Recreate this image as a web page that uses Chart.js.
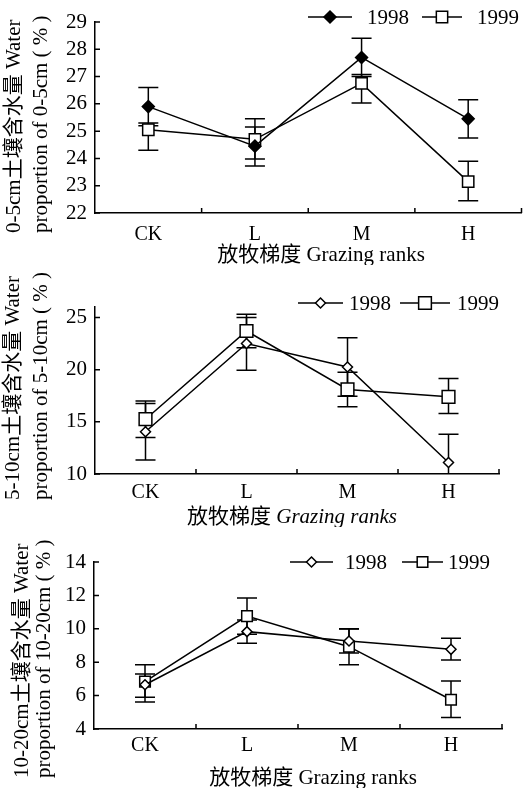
<!DOCTYPE html>
<html>
<head>
<meta charset="utf-8">
<script src="https://cdn.jsdelivr.net/npm/chart.js@4.4.0/dist/chart.umd.min.js"></script>
<style>
  body { margin: 0; background: #fff; width: 531px; height: 788px; position: relative; overflow: hidden; }
  canvas { position: absolute; left: 0; }
</style>
</head>
<body>
<canvas id="c1" width="531" height="265" style="top:0px"></canvas>
<canvas id="c2" width="531" height="262" style="top:265px"></canvas>
<canvas id="c3" width="531" height="261" style="top:527px"></canvas>
<script>
const categories = ['CK', 'L', 'M', 'H'];
const years = ['1998', '1999'];
const xTitleCn = '放牧梯度 ';
const xTitleEn = 'Grazing ranks';

// 0-5cm
const water05_1998 = [25.9, 24.45, 27.7, 25.45];
const low05_1998 = [25.2, 23.72, 27.0, 24.75];
const high05_1998 = [26.6, 25.15, 28.4, 26.15];
const water05_1999 = [25.05, 24.7, 26.75, 23.15];
const low05_1999 = [24.3, 23.98, 26.03, 22.45];
const high05_1999 = [25.3, 25.45, 27.08, 23.9];

// 5-10cm
const water510_1998 = [14.05, 22.5, 20.25, 11.1];
const low510_1998 = [11.35, 19.95, 17.45, 8.4];
const high510_1998 = [16.75, 25.0, 23.05, 13.8];
const water510_1999 = [15.25, 23.7, 18.1, 17.4];
const low510_1999 = [13.5, 22.1, 16.45, 15.8];
const high510_1999 = [17.0, 25.3, 19.75, 19.15];

// 10-20cm
const water1020_1998 = [6.65, 9.83, 9.27, 8.77];
const low1020_1998 = [5.9, 9.13, 8.55, 8.13];
const high1020_1998 = [7.3, 10.53, 9.99, 9.43];
const water1020_1999 = [6.84, 10.76, 8.93, 5.75];
const low1020_1999 = [5.62, 9.67, 7.84, 4.69];
const high1020_1999 = [7.85, 11.85, 10.0, 6.88];

const FONT = "'Liberation Serif', 'Noto Sans CJK SC', serif";

function drawMarker(ctx, style, x, y, r, fill) {
  ctx.beginPath();
  if (style === 'rectRot') {
    ctx.moveTo(x, y - r);
    ctx.lineTo(x + r, y);
    ctx.lineTo(x, y + r);
    ctx.lineTo(x - r, y);
  } else {
    const h = r * Math.SQRT1_2;
    ctx.rect(x - h, y - h, 2 * h, 2 * h);
  }
  ctx.closePath();
  ctx.fillStyle = fill;
  ctx.fill();
  ctx.stroke();
}

const decor = {
  id: 'decor',
  beforeDatasetsDraw(chart, args, opts) {
    const ctx = chart.ctx;
    const ys = chart.scales.y;
    const a = chart.chartArea;
    ctx.save();
    ctx.beginPath();
    ctx.rect(a.left, a.top - 12, a.right - a.left, a.bottom - a.top + 12);
    ctx.clip();
    ctx.strokeStyle = '#000';
    ctx.lineWidth = 1.5;
    opts.errors.forEach((err, d) => {
      chart.getDatasetMeta(d).data.forEach((pt, i) => {
        const yl = ys.getPixelForValue(err.low[i]);
        const yh = ys.getPixelForValue(err.high[i]);
        ctx.beginPath();
        ctx.moveTo(pt.x, yl);
        ctx.lineTo(pt.x, yh);
        ctx.moveTo(pt.x - 10, yh);
        ctx.lineTo(pt.x + 10, yh);
        if (err.low[i] >= ys.min) {
          ctx.moveTo(pt.x - 10, yl);
          ctx.lineTo(pt.x + 10, yl);
        }
        ctx.stroke();
      });
    });
    ctx.restore();
  },
  afterDraw(chart, args, opts) {
    const ctx = chart.ctx;
    const xs = chart.scales.x;
    const ys = chart.scales.y;
    const a = chart.chartArea;
    ctx.save();
    ctx.strokeStyle = '#000';
    ctx.lineWidth = 1.5;

    // inward tick marks
    ctx.beginPath();
    ys.ticks.forEach(t => {
      const p = ys.getPixelForValue(t.value);
      ctx.moveTo(a.left, p);
      ctx.lineTo(a.left + 5, p);
    });
    const step = (a.right - a.left) / categories.length;
    for (let i = 1; i <= categories.length; i++) {
      const px = xs.getPixelForValue(i - 1) + step / 2;
      ctx.moveTo(px, a.bottom);
      ctx.lineTo(px, a.bottom - 5);
    }
    ctx.stroke();

    // axis titles
    ctx.fillStyle = '#000';
    ctx.textBaseline = 'middle';
    const yt = opts.yTitle;
    ctx.font = yt.size + 'px ' + FONT;
    ctx.textAlign = 'left';
    yt.lines.forEach((line, k) => {
      ctx.save();
      ctx.translate(yt.x[k], yt.bottom);
      ctx.rotate(-Math.PI / 2);
      ctx.fillText(line, 0, 0);
      ctx.restore();
    });
    const xt = opts.xTitle;
    const fontCn = '21px ' + FONT;
    const fontEn = (xt.italic ? 'italic ' : '') + '21px ' + FONT;
    ctx.font = fontCn;
    const wCn = ctx.measureText(xTitleCn).width;
    ctx.font = fontEn;
    const wEn = ctx.measureText(xTitleEn).width;
    const start = xt.x - (wCn + wEn) / 2;
    ctx.font = fontCn;
    ctx.fillText(xTitleCn, start, xt.y);
    ctx.font = fontEn;
    ctx.fillText(xTitleEn, start + wCn, xt.y);

    // legend
    const lg = opts.legend;
    lg.items.forEach((it, d) => {
      const dsOpt = chart.data.datasets[d];
      ctx.beginPath();
      ctx.moveTo(it.x0, lg.y);
      ctx.lineTo(it.x1, lg.y);
      ctx.stroke();
      drawMarker(ctx, dsOpt.pointStyle, (it.x0 + it.x1) / 2, lg.y, dsOpt.pointRadius, dsOpt.pointBackgroundColor);
      ctx.fillStyle = '#000';
      ctx.font = '21px ' + FONT;
      ctx.textAlign = 'left';
      ctx.fillText(years[d], it.tx, lg.y + 1);
    });
    ctx.restore();
  }
};

function series(label, data, style, radius, fill) {
  return {
    label,
    data,
    borderColor: '#000',
    borderWidth: 1.5,
    pointStyle: style,
    pointRadius: radius,
    pointBackgroundColor: fill,
    pointBorderColor: '#000',
    pointBorderWidth: 1.5,
    tension: 0
  };
}

function makePanel(id, cfg) {
  return new Chart(document.getElementById(id).getContext('2d'), {
    type: 'line',
    data: {
      labels: categories,
      datasets: cfg.datasets
    },
    plugins: [decor],
    options: {
      responsive: false,
      animation: false,
      devicePixelRatio: 1,
      layout: { padding: { top: cfg.padTop, right: cfg.padRight, left: 0, bottom: 0 } },
      plugins: {
        legend: { display: false },
        tooltip: { enabled: false },
        decor: {
          errors: cfg.errors,
          yTitle: cfg.yTitle,
          xTitle: cfg.xTitle,
          legend: cfg.legend
        }
      },
      scales: {
        x: {
          type: 'category',
          offset: true,
          grid: { display: false, drawTicks: false, offset: true },
          border: { display: true, color: '#000', width: 1.5 },
          ticks: { color: '#000', padding: cfg.tickPad, font: { family: FONT, size: 20 } },
          afterFit: s => { s.height = cfg.xHeight; }
        },
        y: {
          min: cfg.yMin,
          max: cfg.yMax,
          grid: { display: false, drawTicks: false },
          border: { display: true, color: '#000', width: 1.5 },
          ticks: {
            stepSize: cfg.yStep,
            includeBounds: false,
            autoSkip: false,
            color: '#000',
            padding: 8,
            font: { family: FONT, size: 21, lineHeight: 1 }
          },
          afterFit: s => { s.width = cfg.yWidth; }
        }
      }
    }
  });
}

makePanel('c1', {
  datasets: [
    series(years[0], water05_1998, 'rectRot', 6, '#000'),
    series(years[1], water05_1999, 'rect', 8, '#fff')
  ],
  errors: [
    { low: low05_1998, high: high05_1998 },
    { low: low05_1999, high: high05_1999 }
  ],
  yMin: 22, yMax: 29, yStep: 1,
  padTop: 22, padRight: 4, yWidth: 95, xHeight: 52, tickPad: 10,
  legend: { y: 17, items: [{ x0: 308, x1: 352, tx: 367 }, { x0: 422, x1: 462, tx: 477 }] },
  yTitle: { lines: ['0-5cm土壤含水量 Water', 'proportion of 0-5cm ( % )'], x: [14, 41], bottom: 233, size: 21 },
  xTitle: { x: 321, y: 255, italic: false }
});

makePanel('c2', {
  datasets: [
    series(years[0], water510_1998, 'rectRot', 5, '#fff'),
    series(years[1], water510_1999, 'rect', 9, '#fff')
  ],
  errors: [
    { low: low510_1998, high: high510_1998 },
    { low: low510_1999, high: high510_1999 }
  ],
  yMin: 10, yMax: 26, yStep: 5,
  padTop: 42, padRight: 32, yWidth: 95, xHeight: 53, tickPad: 7,
  legend: { y: 38, items: [{ x0: 298, x1: 343, tx: 349 }, { x0: 400, x1: 450, tx: 457 }] },
  yTitle: { lines: ['5-10cm土壤含水量 Water', 'proportion of 5-10cm ( % )'], x: [13, 41], bottom: 235, size: 21 },
  xTitle: { x: 292, y: 252, italic: true }
});

makePanel('c3', {
  datasets: [
    series(years[0], water1020_1998, 'rectRot', 5, '#fff'),
    series(years[1], water1020_1999, 'rect', 7.5, '#fff')
  ],
  errors: [
    { low: low1020_1998, high: high1020_1998 },
    { low: low1020_1999, high: high1020_1999 }
  ],
  yMin: 4, yMax: 14, yStep: 2,
  padTop: 35, padRight: 29, yWidth: 94, xHeight: 59, tickPad: 5,
  legend: { y: 35, items: [{ x0: 290, x1: 333, tx: 345 }, { x0: 402, x1: 443, tx: 448 }] },
  yTitle: { lines: ['10-20cm土壤含水量 Water', 'proportion of 10-20cm ( % )'], x: [22, 44], bottom: 251, size: 21 },
  xTitle: { x: 313, y: 251, italic: false }
});
</script>
</body>
</html>
